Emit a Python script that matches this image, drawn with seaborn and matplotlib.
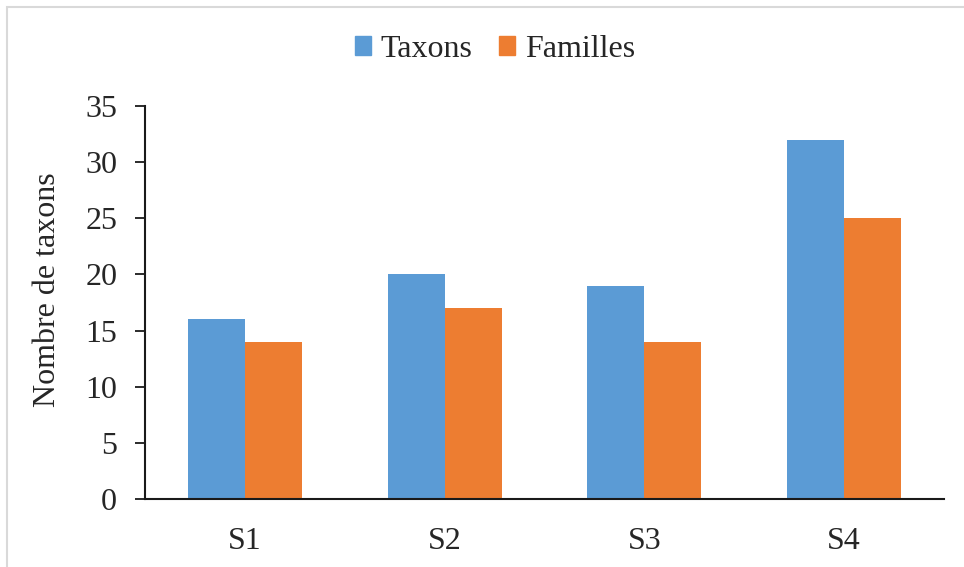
import matplotlib
matplotlib.use("Agg")
import matplotlib.pyplot as plt
import matplotlib.patches as mpatches
import seaborn as sns
import pandas as pd

# Data
sites = ["S1", "S2", "S3", "S4"]
taxons = [16, 20, 19, 32]
familles = [14, 17, 14, 25]
series_names = ["Taxons", "Familles"]
y_ticks = [0, 5, 10, 15, 20, 25, 30, 35]

colors = ["#5B9BD5", "#ED7D31"]

df = pd.DataFrame({
    "Site": sites * 2,
    "Valeur": taxons + familles,
    "Série": [series_names[0]] * len(sites) + [series_names[1]] * len(sites),
})

sns.set_style("white")
plt.rcParams["font.family"] = ["Liberation Serif", "DejaVu Serif"]

W, H = 964, 567
FS = 23
fig = plt.figure(figsize=(W / 100, H / 100), dpi=100)

# Chart area frame (light gray)
frame = mpatches.Rectangle((7 / W, -0.05), 1.2, 1.05 - 7 / H,
                           transform=fig.transFigure, fill=False,
                           edgecolor="#D9D9D9", linewidth=1.5)
fig.patches.append(frame)

left, right, top, bottom = 145, 944, 106, 499
ax = fig.add_axes([left / W, (H - bottom) / H, (right - left) / W, (bottom - top) / H])

sns.barplot(data=df, x="Site", y="Valeur", hue="Série", palette=colors,
            width=0.57, ax=ax, saturation=1, legend=False, linewidth=0)

ax.set_ylim(0, 35)
ax.set_yticks(y_ticks)
ax.set_xlim(-0.5, len(sites) - 0.5)
ax.set_xlabel("")
ax.set_ylabel("")
fig.text(48 / W, 1 - 290 / H, "Nombre de taxons", rotation=90,
         ha="center", va="center", fontsize=FS)

for s in ["top", "right"]:
    ax.spines[s].set_visible(False)
for s in ["left", "bottom"]:
    ax.spines[s].set_color("#1a1a1a")
    ax.spines[s].set_linewidth(1.5)

ax.tick_params(axis="y", direction="out", length=7, width=1.3, color="#1a1a1a",
               labelsize=FS, pad=13, left=True)
ax.tick_params(axis="x", length=0, labelsize=FS, pad=20)

handles = [mpatches.Patch(color=c, label=n) for c, n in zip(colors, series_names)]
fig.legend(handles=handles, loc="center", bbox_to_anchor=(495 / W, 1 - 49 / H),
           ncol=2, frameon=False, fontsize=FS, handlelength=0.5, handleheight=0.55,
           handletextpad=0.3, columnspacing=0.85)

fig.savefig("out.png", dpi=100)
